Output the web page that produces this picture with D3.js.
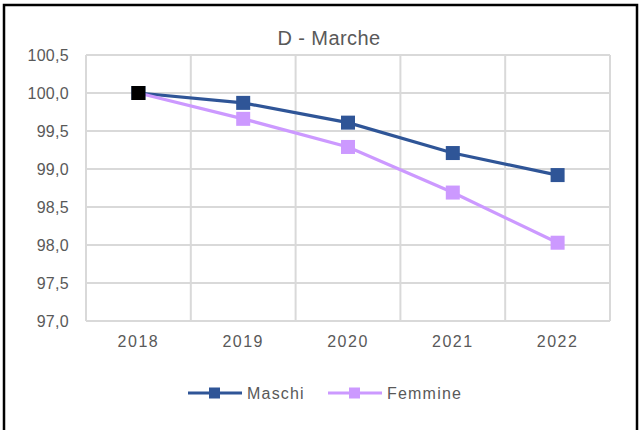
<!DOCTYPE html>
<html>
<head>
<meta charset="utf-8">
<script src="https://cdn.jsdelivr.net/npm/d3@7"></script>
<style>
body { margin: 0; background: #fff; }
svg { font-family: "Liberation Sans", Arial, sans-serif; }
</style>
</head>
<body>
<div id="chart"></div>
<script>
// Chart data
var title = 'D - Marche';
var years = ['2018', '2019', '2020', '2021', '2022'];
var maschi = [100.0, 99.87, 99.61, 99.21, 98.92];
var femmine = [100.0, 99.66, 99.29, 98.69, 98.03];
var seriesNames = ['Maschi', 'Femmine'];
var yTicks = [97.0, 97.5, 98.0, 98.5, 99.0, 99.5, 100.0, 100.5];
var highlightYear = '2018';

var width = 640, height = 430;
var colors = ['#2f5597', '#cc99ff'];
var textColor = '#595959';
var gridColor = '#d9d9d9';

var svg = d3.select('#chart').append('svg')
    .attr('width', width)
    .attr('height', height);

// Outer border
svg.append('rect')
    .attr('x', 4).attr('y', 5)
    .attr('width', 633).attr('height', 440)
    .attr('fill', 'none')
    .attr('stroke', '#000')
    .attr('stroke-width', 2.5);

// Title
svg.append('text')
    .attr('x', 329).attr('y', 45)
    .attr('text-anchor', 'middle')
    .attr('font-size', 20)
    .attr('letter-spacing', 0.4)
    .attr('fill', textColor)
    .text(title);

var x = d3.scaleBand().domain(years).range([86, 610]);
var y = d3.scaleLinear().domain([97, 100.5]).range([321, 55]);
var fmt = d3.formatLocale({ decimal: ',', thousands: '.', grouping: [3], currency: ['', '€'] }).format('.1f');

// Horizontal grid lines
svg.append('g')
    .selectAll('line')
    .data(yTicks)
    .enter()
    .append('line')
    .attr('x1', 86).attr('x2', 610)
    .attr('y1', function(d) { return y(d); })
    .attr('y2', function(d) { return y(d); })
    .attr('stroke', gridColor)
    .attr('stroke-width', 2);

// Vertical grid lines at band edges
var edges = years.map(function(d) { return x(d); }).concat([x.range()[1]]);
svg.append('g')
    .selectAll('line')
    .data(edges)
    .enter()
    .append('line')
    .attr('x1', function(d) { return d; })
    .attr('x2', function(d) { return d; })
    .attr('y1', 55).attr('y2', 321)
    .attr('stroke', gridColor)
    .attr('stroke-width', 2);

// Y axis labels
svg.append('g')
    .selectAll('text')
    .data(yTicks)
    .enter()
    .append('text')
    .attr('x', 69)
    .attr('y', function(d) { return y(d); })
    .attr('dy', '0.36em')
    .attr('text-anchor', 'end')
    .attr('font-size', 16)
    .attr('letter-spacing', 0.3)
    .attr('fill', textColor)
    .text(function(d) { return fmt(d); });

// X axis labels
svg.append('g')
    .selectAll('text')
    .data(years)
    .enter()
    .append('text')
    .attr('x', function(d) { return x(d) + x.bandwidth() / 2; })
    .attr('y', 347)
    .attr('text-anchor', 'middle')
    .attr('font-size', 16)
    .attr('letter-spacing', 1.5)
    .attr('fill', textColor)
    .text(function(d) { return d; });

// Series lines and markers
var series = [maschi, femmine];
var line = d3.line()
    .x(function(d, i) { return x(years[i]) + x.bandwidth() / 2; })
    .y(function(d) { return y(d); });

series.forEach(function(values, s) {
    svg.append('path')
        .datum(values)
        .attr('d', line)
        .attr('fill', 'none')
        .attr('stroke', colors[s])
        .attr('stroke-width', 3.2);
});

series.forEach(function(values, s) {
    svg.append('g')
        .selectAll('rect')
        .data(values)
        .enter()
        .append('rect')
        .attr('x', function(d, i) { return x(years[i]) + x.bandwidth() / 2 - 7; })
        .attr('y', function(d) { return y(d) - 7; })
        .attr('width', 14).attr('height', 14)
        .attr('fill', function(d, i) {
            return (s === series.length - 1 && years[i] === highlightYear) ? '#000' : colors[s];
        });
});

// Legend
var legendX = [188, 328];
var legend = svg.append('g')
    .selectAll('g')
    .data(seriesNames)
    .enter()
    .append('g')
    .attr('transform', function(d, i) { return 'translate(' + legendX[i] + ',393)'; });

legend.append('line')
    .attr('x1', 0).attr('x2', 54)
    .attr('stroke', function(d, i) { return colors[i]; })
    .attr('stroke-width', 3.2);

legend.append('rect')
    .attr('x', 21).attr('y', -5.5)
    .attr('width', 11).attr('height', 11)
    .attr('fill', function(d, i) { return colors[i]; });

legend.append('text')
    .attr('x', 59).attr('y', 0)
    .attr('dy', '0.36em')
    .attr('font-size', 16)
    .attr('letter-spacing', 1.2)
    .attr('fill', textColor)
    .text(function(d) { return d; });
</script>
</body>
</html>
